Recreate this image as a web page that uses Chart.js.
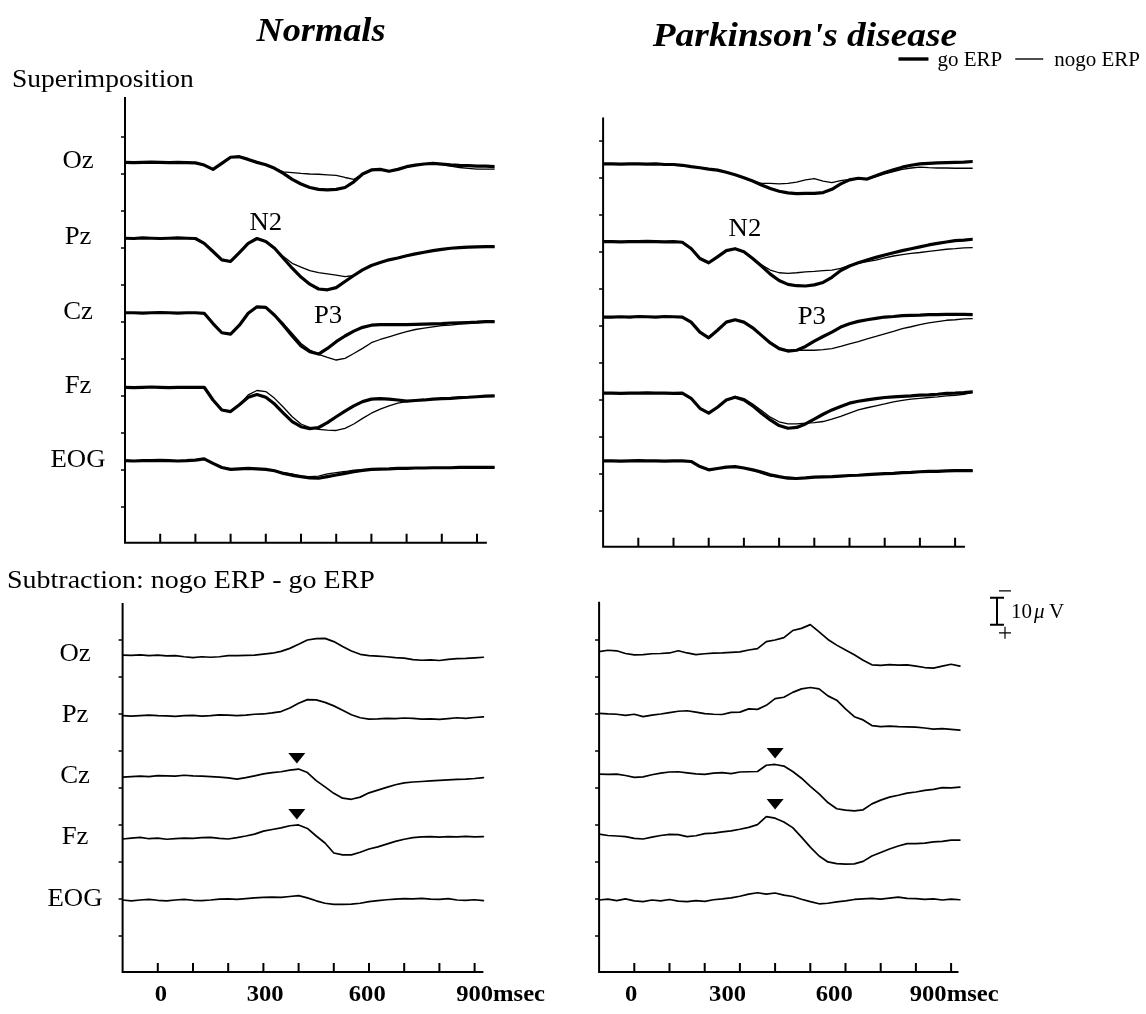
<!DOCTYPE html>
<html><head><meta charset="utf-8">
<script src="https://cdn.jsdelivr.net/npm/chart.js@4.4.1/dist/chart.umd.min.js"></script>
<style>
html,body{margin:0;padding:0;background:#fff;}
body{width:1146px;height:1014px;position:relative;overflow:hidden;}
canvas{position:absolute;}
</style></head><body>
<script>
// ---------------- DATA ----------------
const times = [-100,-75,-50,-25,0,25,50,75,100,125,150,175,200,225,250,275,300,325,350,375,400,425,450,475,500,525,550,575,600,625,650,675,700,725,750,775,800,825,850,875,900,925,950];
const channels = ['Oz','Pz','Cz','Fz','EOG'];
const xTickValues = [0,100,200,300,400,500,600,700,800,900];
const tickLabels = ['0','300','600','900msec'];
const tickLabelPosLeft = [9,305,595,900];
const tickLabelPosRight = [-9,265,568,835];
const yTicksTop = [13.7,27.4,41.1,54.8,68.5,82.2,95.9,109.6,123.3,137.0,150.7];
const yTicksBottom = [13.7,27.4,41.1,54.8,68.5,82.2,95.9,109.6,123.3];
const peakLabels = ['N2','P3'];
const peakTimesN = [300,477], peakLevelsN = [45,79.6];
const peakTimesP = [303,493], peakLevelsP = [45.9,78.5];
const markerChannels = [2,3];
const markerTimesN = [395,395], markerRelN = [-6.9,-9.0];
const markerTimesP = [400,400], markerRelP = [-7.8,-11.5];
const legendLabels = ['go ERP','nogo ERP'];
// channel baselines (µV position on each panel's axis, negative up)
const offTL = [23.1,51.2,78.8,106.4,133.6];
const offTR = [22.2,51.0,78.9,107.1,132.2];
const offBL = [19.3,41.7,64.3,87.1,110.0];
const offBR = [18.0,40.9,63.4,85.9,110.0];

// Normals, superimposition (µV, positive down)
const nGoOz   = [0,0.1,0,-0.1,0,0.1,0,0.1,0.2,1.0,2.6,0.4,-1.9,-2.1,-1.1,0,0.9,2.2,4.1,6.3,8.0,9.3,10.0,10.2,10.0,9.3,7.2,4.3,2.8,2.6,3.3,2.6,1.6,1.0,0.6,0.4,0.6,0.9,1.1,1.2,1.4,1.4,1.6];
const nNogoOz = [0,0.1,0,-0.1,0,0.1,0,0.1,0.2,1.0,2.6,0.4,-1.9,-2.1,-1.1,0,0.9,2.2,3.5,3.8,4.1,4.3,4.4,4.6,4.8,5.6,6.3,4.3,2.8,2.6,3.3,2.6,1.6,1.0,0.6,0.6,0.9,1.4,1.9,2.2,2.5,2.5,2.5];
const nGoPz   = [0,0.1,-0.1,0,0.1,0,-0.1,0,0.1,1.9,4.9,8.0,8.6,5.3,1.9,0.1,1.2,3.7,7.4,11.1,14.4,17.0,18.8,19.1,18.3,16.0,13.8,11.7,10.1,9.0,8.0,7.3,6.5,5.8,5.2,4.6,4.1,3.7,3.5,3.3,3.2,3.1,3.1];
const nNogoPz = [0,0.1,-0.1,0,0.1,0,-0.1,0,0.1,1.9,4.9,8.0,8.6,5.3,1.9,0.1,1.2,3.7,6.8,9.3,10.7,12.0,12.7,13.2,13.7,14.2,13.8,11.7,10.1,9.0,8.0,7.3,6.5,5.8,5.2,4.6,4.1,3.7,3.5,3.3,3.2,3.1,3.1];
const nGoCz   = [0,0,0.1,0,-0.1,0,0.1,0,0,0.2,4.0,7.4,7.9,4.6,0.2,-2.2,-2.0,0.9,4.6,8.6,12.3,14.4,15.3,13.2,10.7,8.6,6.8,5.4,4.6,4.4,4.4,4.4,4.4,4.3,4.2,4.1,4.0,3.8,3.7,3.6,3.5,3.3,3.3];
const nNogoCz = [0,0,0.1,0,-0.1,0,0.1,0,0,0.2,4.0,7.4,7.9,4.6,0.2,-2.2,-2.0,0.9,4.0,7.7,11.4,13.8,15.4,16.5,17.5,16.9,15.1,13.2,11.1,9.9,8.9,7.9,7.0,6.2,5.7,5.2,4.8,4.6,4.2,4.0,3.7,3.5,3.3];
const nGoFz   = [0,0.1,0,-0.1,0,0.1,0,0,0,0,4.7,8.4,9.0,6.5,3.7,2.7,3.7,6.2,9.6,12.7,14.6,15.3,14.9,13.1,10.9,8.8,6.9,5.3,4.4,4.2,4.4,4.7,5.1,4.9,4.7,4.4,4.2,4.1,3.8,3.7,3.5,3.3,3.2];
const nNogoFz = [0,0.1,0,-0.1,0,0.1,0,0,0,0,4.7,8.4,9.0,6.5,2.8,1.2,1.6,4.1,7.4,10.9,13.6,14.9,15.6,15.9,16.0,15.2,13.6,11.5,9.6,8.1,6.9,5.9,5.3,4.9,4.7,4.4,4.2,4.1,3.8,3.7,3.5,3.3,3.2];
const nGoEOG  = [0,0.1,0,0,-0.1,0,0.1,0,-0.2,-0.7,1.0,2.5,3.2,3.0,2.8,3.0,3.2,3.7,4.7,5.4,5.9,6.4,6.5,5.9,5.3,4.7,4.1,3.6,3.2,3.1,3.0,2.8,2.8,2.7,2.7,2.6,2.6,2.6,2.5,2.5,2.5,2.5,2.5];
const nNogoEOG= [0,0.1,0,0,-0.1,0,0.1,0,-0.2,-0.7,1.0,2.5,3.2,3.0,2.8,3.0,3.2,3.7,4.4,4.9,5.7,5.9,5.7,4.9,4.4,4.0,3.5,3.3,3.2,3.1,3.0,2.8,2.8,2.7,2.7,2.6,2.6,2.6,2.5,2.5,2.5,2.5,2.5];

// Parkinson's disease, superimposition
const pGoOz   = [0,0,0.1,0,0,0.1,0,0.2,0.2,0.5,1.0,1.4,1.9,2.3,3.1,4.0,5.1,6.3,7.8,9.1,10.1,10.7,11.0,10.9,10.9,10.6,9.4,7.4,5.9,5.3,5.6,4.4,3.2,2.2,1.2,0.5,0,-0.2,-0.4,-0.5,-0.6,-0.7,-0.9];
const pNogoOz = [0,0,0.1,0,0,0.1,0,0.2,0.2,0.5,1.0,1.4,1.9,2.3,3.1,4.0,5.1,6.3,7.2,7.2,7.4,7.2,6.7,5.9,5.4,6.4,6.9,6.2,5.7,5.3,5.6,4.7,3.7,2.8,2.0,1.5,1.2,1.4,1.5,1.5,1.6,1.6,1.6];
const pGoPz   = [0,0,0.1,0,0,-0.1,0,0.1,0,0.2,2.5,6.2,7.8,5.6,3.3,2.6,3.7,6.2,9.0,12.0,14.4,15.8,16.3,16.4,16.0,15.1,13.2,10.7,9.0,7.8,6.8,5.8,4.9,4.1,3.3,2.6,1.9,1.2,0.6,0.1,-0.4,-0.6,-0.9];
const pNogoPz = [0,0,0.1,0,0,-0.1,0,0.1,0,0.2,2.5,6.2,7.8,5.6,3.3,2.6,3.7,6.2,8.6,10.5,11.5,11.7,11.5,11.2,11.0,10.7,10.5,9.9,8.8,8.0,7.4,6.8,6.0,5.3,4.8,4.3,4.0,3.6,3.2,2.8,2.6,2.3,2.2];
const pGoCz   = [0,0,-0.1,0,-0.2,-0.1,0,-0.2,-0.1,0,1.9,5.6,7.7,4.9,1.9,1.0,1.9,4.0,6.8,9.6,11.7,12.6,12.3,10.9,8.9,7.2,5.6,3.7,2.5,1.6,1.0,0.5,0,-0.2,-0.5,-0.6,-0.7,-0.9,-0.9,-1.0,-1.0,-1.0,-0.9];
const pNogoCz = [0,0,-0.1,0,-0.2,-0.1,0,-0.2,-0.1,0,1.9,5.6,7.7,4.9,1.9,1.0,1.9,4.0,6.8,9.4,11.4,12.3,12.3,12.3,12.3,12.1,11.7,10.9,9.9,9.1,8.1,7.2,6.2,5.3,4.3,3.6,2.8,2.2,1.7,1.2,1.0,0.7,0.6];
const pGoFz   = [0,0,0.1,0,0,-0.1,0,0,0.1,0,1.9,5.6,7.4,5.2,2.5,1.5,2.5,4.7,7.4,9.9,12.0,13.0,12.7,11.4,9.6,7.8,6.2,4.9,3.7,3.0,2.5,2.0,1.6,1.4,1.2,1.0,0.7,0.6,0.4,0.1,0,-0.2,-0.5];
const pNogoFz = [0,0,0.1,0,0,-0.1,0,0,0.1,0,1.9,5.6,7.4,5.2,2.5,1.2,2.0,4.0,6.4,8.9,10.6,11.4,11.4,11.1,10.9,10.5,9.6,8.6,7.4,6.2,5.4,4.7,4.0,3.2,2.7,2.2,1.9,1.6,1.4,1.0,0.8,0.4,-0.3];
const pGoEOG  = [0,0,0.1,0,-0.1,0,0,0.1,0,0,0.2,2.1,3.3,2.8,2.3,2.1,2.6,3.3,4.1,5.1,5.8,6.4,6.5,6.3,6.0,5.9,5.8,5.6,5.4,5.3,5.1,4.9,4.7,4.6,4.3,4.2,4.0,3.9,3.9,3.7,3.6,3.6,3.6];
const pNogoEOG= [0,0,0.1,0,-0.1,0,0,0.1,0,0,0.2,2.1,3.3,2.8,2.3,2.1,2.6,3.3,4.6,5.6,6.0,6.0,6.3,6.3,6.0,5.9,5.8,5.6,5.4,5.3,5.1,4.9,4.7,4.6,4.3,4.2,4.0,3.9,3.9,3.7,3.6,3.6,3.6];

// Subtraction nogo - go, Normals
const nDiffOz  = [0,0.1,-0.1,0.2,0,0.3,0.2,0.6,0.9,0.6,0.8,0.6,0.2,0.2,0.1,0,-0.4,-0.7,-1.4,-2.5,-4.0,-5.6,-6.1,-6.2,-5.0,-3.2,-1.5,-0.3,0.2,0.4,0.6,0.9,1.1,1.7,1.9,1.8,2.0,1.6,1.3,1.2,1.0,0.8,0.9];
const nDiffPz  = [0,0.2,0,-0.2,0,0.1,0.3,0,-0.1,0.2,0,-0.3,-0.2,0,-0.2,-0.5,-0.6,-1.0,-1.5,-2.8,-4.6,-5.9,-5.8,-4.9,-3.6,-2.0,-0.3,0.8,1.3,1.2,1.0,1.1,0.9,1.0,1.3,1.2,1.4,1.1,0.8,1.0,0.7,0.5,0.4];
const nDiffCz  = [0.2,0,-0.2,0,-0.4,-0.3,-0.2,-0.5,-0.3,-0.2,0,0.2,0.5,0.9,0.4,-0.3,-1.0,-1.5,-1.8,-2.4,-2.8,-1.5,1.5,3.8,6.2,8.0,8.4,7.6,6.0,5.0,4.0,3.0,2.3,2.0,1.8,1.6,1.4,1.2,1.0,0.9,0.7,0.4,0.5];
const nDiffFz  = [0.3,0,-0.3,0.2,0,0.4,0.2,0,0.1,-0.2,-0.3,0.1,0.3,-0.2,-0.8,-1.5,-2.6,-3.2,-3.8,-4.6,-4.9,-3.6,-0.8,1.8,5.5,6.2,6.2,5.2,4.0,3.2,2.2,1.2,0.4,-0.2,-0.5,-0.6,-0.4,-0.6,-0.5,-0.7,-0.5,-0.6,-0.6];
const nDiffEOG = [0,0.3,0,-0.2,0.1,0.3,0,-0.2,0.1,0.2,0,-0.3,-0.4,-0.2,-0.5,-0.8,-1.0,-1.1,-1.0,-1.3,-1.6,-0.8,0.3,1.2,1.6,1.6,1.5,1.2,0.6,0.2,-0.1,-0.3,-0.5,-0.4,-0.6,-0.3,-0.2,-0.5,0,0.1,-0.1,0.2,0];

// Subtraction nogo - go, Parkinson's disease
const pDiffOz  = [0,-0.5,-0.3,0.7,1.2,1.1,0.8,0.7,0.5,-0.3,0.5,1.1,0.8,0.6,0.5,0.3,0.1,-0.6,-1.1,-3.7,-4.3,-5.2,-7.8,-8.6,-10.0,-7.3,-4.5,-2.4,-0.6,1.2,3.2,4.9,5.1,4.8,5.0,4.9,5.4,5.9,6.1,5.4,4.7,5.4,5.4];
const pDiffPz  = [0,0.2,0.3,0.7,0.3,1.2,0.6,0.2,-0.3,-0.8,-1.0,-0.5,0.1,0.3,0.4,-0.4,-0.5,-1.7,-1.5,-3.0,-5.5,-6.0,-7.8,-9.1,-9.6,-9.1,-6.5,-4.9,-1.7,1.2,2.4,4.5,4.9,4.7,4.9,5.0,5.1,5.4,5.8,5.6,5.9,6.2,6.8];
const pDiffCz  = [0,0.1,0,0.5,1.2,1.0,0.2,-0.4,-0.8,-0.9,-0.5,-0.1,0.1,-0.4,-0.6,-0.2,-0.8,-0.9,-1.0,-3.3,-3.6,-3.0,-1.0,1.5,4.5,7.3,10.5,12.8,13.3,13.6,13.2,11.0,9.6,8.5,7.8,7.0,6.6,6.0,5.6,5.0,5.1,4.8,4.8];
const pDiffFz  = [-0.3,0.2,0.4,0.6,1.3,1.5,0.8,0.2,-0.2,-0.1,0.6,0.3,-0.5,-0.7,-1.1,-1.5,-2.1,-2.8,-3.8,-6.8,-6.2,-4.8,-2.7,0.8,4.5,7.8,10.0,10.6,10.8,10.7,9.8,7.8,6.5,5.2,4.1,3.2,3.2,3.0,2.6,2.4,1.9,1.9,1.8];
const pDiffEOG = [0,-0.3,0.2,-0.4,0.3,0.6,0,0.3,-0.2,0.4,0.6,0.2,0.5,-0.1,-0.4,-0.8,-1.4,-2.2,-2.7,-2.2,-2.6,-1.8,-1.3,-0.3,0.6,1.4,1.2,0.7,0.3,-0.2,-0.4,-0.6,-0.3,-0.7,-1.1,-0.6,-0.5,-0.2,-0.4,0,-0.3,-0.1,0.2];

const scaleBarSize = 10; // µV

// ---------------- DRAWING ----------------
const SERIF = '"Liberation Serif","Times New Roman",serif';
const SX = 1.07;

function stext(ctx, s, x, y, font, align, sx) {
  ctx.save();
  ctx.font = font; ctx.textAlign = align; ctx.textBaseline = 'alphabetic';
  ctx.fillStyle = '#000';
  ctx.translate(x, y); ctx.scale(sx || SX, 1);
  ctx.fillText(s, 0, 0);
  ctx.restore();
}

const panels = [
  { id:'tl', box:[0,0,573,560], area:[125,100,494.6,542.8], yMax:164, axisTop:-1.1, xAxisEnd:928,
    yTicks:yTicksTop, offsets:offTL, kind:'super', labelX:78,
    traces:[[nGoOz,nNogoOz],[nGoPz,nNogoPz],[nGoCz,nNogoCz],[nGoFz,nNogoFz],[nGoEOG,nNogoEOG]],
    peaks:{t:peakTimesN, v:peakLevelsN},
    extra(ctx, ox, oy){
      stext(ctx, 'Normals', 321-ox, 41-oy, 'bold italic 33px '+SERIF, 'center', 1.1);
      stext(ctx, 'Superimposition', 12-ox, 87-oy, '25px '+SERIF, 'left', 1.1);
    }},
  { id:'tr', box:[573,0,573,560], area:[603.1,104,972.7,546.8], yMax:164, axisTop:5, xAxisEnd:928,
    yTicks:yTicksTop, offsets:offTR, kind:'super', labelX:null,
    traces:[[pGoOz,pNogoOz],[pGoPz,pNogoPz],[pGoCz,pNogoCz],[pGoFz,pNogoFz],[pGoEOG,pNogoEOG]],
    peaks:{t:peakTimesP, v:peakLevelsP},
    extra(ctx, ox, oy){
      stext(ctx, "Parkinson's disease", 805-ox, 46-oy, 'bold italic 34px '+SERIF, 'center', 1.1);
      const f = '21px ' + SERIF;
      ctx.font = f;
      const wNogo = ctx.measureText(legendLabels[1]).width;
      const wGo = ctx.measureText(legendLabels[0]).width;
      const right = 1140;
      const xNogo = right - wNogo;
      const thinR = xNogo - 11, thinL = thinR - 28;
      const xGo = thinL - 13 - wGo;
      const thickR = xGo - 9, thickL = thickR - 30;
      const ly = 59;
      ctx.save(); ctx.strokeStyle='#000';
      ctx.lineWidth = 3.4; ctx.beginPath(); ctx.moveTo(thickL-ox, ly-oy); ctx.lineTo(thickR-ox, ly-oy); ctx.stroke();
      ctx.lineWidth = 1.4; ctx.beginPath(); ctx.moveTo(thinL-ox, ly-oy); ctx.lineTo(thinR-ox, ly-oy); ctx.stroke();
      ctx.restore();
      stext(ctx, legendLabels[0], xGo-ox, ly+7-oy, f, 'left', 1.0);
      stext(ctx, legendLabels[1], xNogo-ox, ly+7-oy, f, 'left', 1.0);
    }},
  { id:'bl', box:[0,560,573,454], area:[122.6,603,492.2,972.1], yMax:136.7, axisTop:0, xAxisEnd:925,
    yTicks:yTicksBottom, offsets:offBL, kind:'diff', labelX:75,
    traces:[nDiffOz,nDiffPz,nDiffCz,nDiffFz,nDiffEOG],
    tickPos:tickLabelPosLeft, markers:{t:markerTimesN, rel:markerRelN},
    extra(ctx, ox, oy){
      stext(ctx, 'Subtraction: nogo ERP - go ERP', 7-ox, 588-oy, '25px '+SERIF, 'left', 1.12);
    }},
  { id:'br', box:[573,560,573,454], area:[599.1,603,968.7,972.1], yMax:136.7, axisTop:-0.5, xAxisEnd:921,
    yTicks:yTicksBottom, offsets:offBR, kind:'diff', labelX:null,
    traces:[pDiffOz,pDiffPz,pDiffCz,pDiffFz,pDiffEOG],
    tickPos:tickLabelPosRight, markers:{t:markerTimesP, rel:markerRelP},
    scaleBar:true,
    extra(){} }
];

function makeDecor(p) {
  return {
    id: 'decor_' + p.id,
    afterDraw(chart) {
      const ctx = chart.ctx, xs = chart.scales.x, ys = chart.scales.y;
      const ox = p.box[0], oy = p.box[1];
      ctx.save();
      ctx.strokeStyle = '#000'; ctx.fillStyle = '#000';
      const xl = xs.getPixelForValue(-100), yb = ys.getPixelForValue(p.yMax);
      ctx.lineWidth = 2;
      ctx.beginPath();
      ctx.moveTo(xl, ys.getPixelForValue(p.axisTop)); ctx.lineTo(xl, yb);
      ctx.lineTo(xs.getPixelForValue(p.xAxisEnd), yb);
      ctx.stroke();
      ctx.beginPath();
      xTickValues.forEach(v => { const px = xs.getPixelForValue(v); ctx.moveTo(px, yb); ctx.lineTo(px, yb - 9); });
      ctx.stroke();
      ctx.lineWidth = 1.5;
      ctx.beginPath();
      p.yTicks.forEach(v => { const py = ys.getPixelForValue(v); ctx.moveTo(xl, py); ctx.lineTo(xl - 4, py); });
      ctx.stroke();
      if (p.labelX) {
        channels.forEach((c, i) => stext(ctx, c, p.labelX - ox, ys.getPixelForValue(p.offsets[i]) + 6, '25px ' + SERIF, 'center'));
      }
      if (p.peaks) {
        peakLabels.forEach((s, i) => stext(ctx, s, xs.getPixelForValue(p.peaks.t[i]), ys.getPixelForValue(p.peaks.v[i]) + 8.5, '25px ' + SERIF, 'center'));
      }
      if (p.tickPos) {
        const f = 'bold 23px ' + SERIF;
        ctx.font = f;
        tickLabels.forEach((s, i) => {
          const num = s.match(/^\d+/)[0];
          const w = ctx.measureText(num).width * SX;
          stext(ctx, s, xs.getPixelForValue(p.tickPos[i]) - w / 2, 1001 - oy, f, 'left');
        });
      }
      if (p.markers) {
        p.markers.t.forEach((t, i) => {
          const cx = xs.getPixelForValue(t);
          const cy = ys.getPixelForValue(p.offsets[markerChannels[i]] + p.markers.rel[i]);
          ctx.beginPath();
          ctx.moveTo(cx - 8.5, cy - 5); ctx.lineTo(cx + 8.5, cy - 5); ctx.lineTo(cx, cy + 5.5); ctx.closePath();
          ctx.fill();
        });
      }
      if (p.scaleBar) {
        const bx = 997 - ox;
        const yBot = ys.getPixelForValue(8.1), yTop = ys.getPixelForValue(8.1 - scaleBarSize);
        ctx.lineWidth = 2;
        ctx.beginPath();
        ctx.moveTo(bx, yTop); ctx.lineTo(bx, yBot);
        ctx.moveTo(bx - 7, yTop); ctx.lineTo(bx + 7, yTop);
        ctx.moveTo(bx - 7, yBot); ctx.lineTo(bx + 7, yBot);
        ctx.stroke();
        ctx.lineWidth = 1.2;
        ctx.beginPath();
        ctx.moveTo(bx + 2, yTop - 7); ctx.lineTo(bx + 14, yTop - 7);
        ctx.moveTo(bx + 2, yBot + 8); ctx.lineTo(bx + 14, yBot + 8);
        ctx.moveTo(bx + 8, yBot + 2); ctx.lineTo(bx + 8, yBot + 14);
        ctx.stroke();
        const ty = (yTop + yBot) / 2 + 7;
        stext(ctx, '10', bx + 14, ty, '21px ' + SERIF, 'left', 1.0);
        stext(ctx, 'μ', bx + 37, ty, 'italic 21px ' + SERIF, 'left', 1.0);
        stext(ctx, 'V', bx + 52, ty, '21px ' + SERIF, 'left', 1.0);
      }
      p.extra(ctx, ox, oy);
      ctx.restore();
    }
  };
}

function buildDatasets(p) {
  const ds = [];
  const pts = (arr, off) => times.map((t, k) => ({ x: t, y: off + arr[k] }));
  if (p.kind === 'super') {
    p.traces.forEach((pair, i) => {
      ds.push({ data: pts(pair[0], p.offsets[i]), borderColor: '#000', borderWidth: 3.2, pointRadius: 0 });
      ds.push({ data: pts(pair[1], p.offsets[i]), borderColor: '#000', borderWidth: 1.3, pointRadius: 0 });
    });
  } else {
    p.traces.forEach((arr, i) => {
      ds.push({ data: pts(arr, p.offsets[i]).filter(q => q.x <= 935), borderColor: '#000', borderWidth: 1.7, pointRadius: 0 });
    });
  }
  return ds;
}

panels.forEach(p => {
  const c = document.createElement('canvas');
  c.width = p.box[2]; c.height = p.box[3];
  c.style.left = p.box[0] + 'px'; c.style.top = p.box[1] + 'px';
  c.style.width = p.box[2] + 'px'; c.style.height = p.box[3] + 'px';
  document.body.appendChild(c);
  const pad = {
    left: p.area[0] - p.box[0],
    top: p.area[1] - p.box[1],
    right: p.box[0] + p.box[2] - p.area[2],
    bottom: p.box[1] + p.box[3] - p.area[3]
  };
  new Chart(c.getContext('2d'), {
    type: 'line',
    data: { datasets: buildDatasets(p) },
    options: {
      responsive: false, animation: false, devicePixelRatio: 1,
      layout: { padding: pad },
      scales: {
        x: { type: 'linear', min: -100, max: 950, display: false },
        y: { type: 'linear', min: 0, max: p.yMax, reverse: true, display: false }
      },
      elements: { line: { tension: 0, borderJoinStyle: 'round', borderCapStyle: 'round' }, point: { radius: 0 } },
      plugins: { legend: { display: false }, tooltip: { enabled: false } }
    },
    plugins: [makeDecor(p)]
  });
});
</script>
</body></html>
